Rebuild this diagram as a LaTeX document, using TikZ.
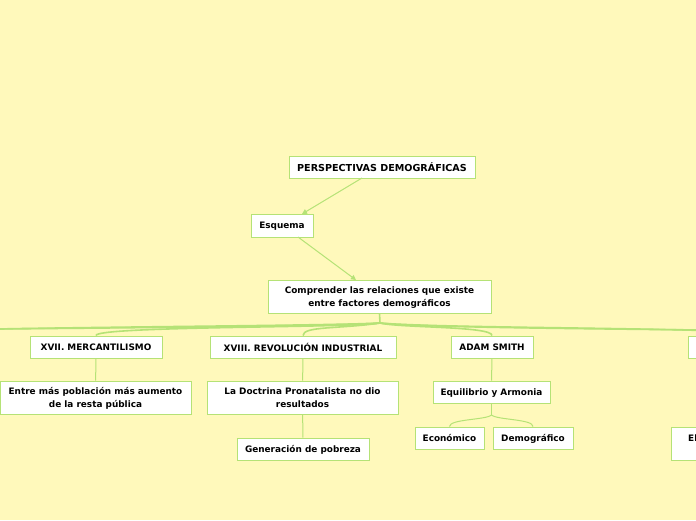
\documentclass[tikz,border=0pt]{standalone}
\usepackage{fontspec}
\setmainfont{DejaVu Sans}
\usetikzlibrary{arrows.meta}
\definecolor{bgyellow}{RGB}{255,249,187}
\definecolor{mapgreen}{RGB}{181,226,118}
\tikzset{
  topic/.style={draw=mapgreen, fill=white, line width=1pt, align=center, inner sep=0pt,
    text depth=0pt, font=\bfseries\fontsize{8.9}{12.5}\selectfont},
  link/.style={draw=mapgreen, line width=1pt},
  branch/.style={draw=mapgreen, line width=1.6pt},
  arrow/.style={link, -{Triangle[width=5pt,length=5pt]}}
}

\begin{document}
\begin{tikzpicture}[x=1pt,y=1pt,yscale=-1]
\clip (0,0) rectangle (696,520);
\fill[bgyellow] (0,0) rectangle (696,520);

% upper part
\node[topic, font=\bfseries\fontsize{9.6}{12}\selectfont, minimum width=186, minimum height=22] (title) at (382,167) {PERSPECTIVAS DEMOGRÁFICAS};
\node[topic, minimum width=62, minimum height=23] (esquema) at (282,225.5) {Esquema};
\node[topic, minimum width=223, minimum height=33] (core) at (379.5,296.5) {Comprender las relaciones que existe\\entre factores demográficos};

\draw[arrow] (362,178) -- (302,214);
\draw[arrow] (298,237) -- (356,280);

% main branches
\node[topic, minimum width=132, minimum height=22] (merc) at (96,347) {XVII. MERCANTILISMO};
\node[topic, minimum width=186, minimum height=22] (revo) at (303,347) {XVIII. REVOLUCIÓN INDUSTRIAL};
\node[topic, minimum width=82, minimum height=22] (adam) at (492,347) {ADAM SMITH};
\node[topic, minimum width=144, minimum height=22] (next) at (760,347) {};

\coordinate (hub) at (380,323);
\draw[branch] (core.south) -- (hub);
\draw[branch] (hub) .. controls (350,328) and (96,326) .. (merc.north);
\draw[branch] (hub) .. controls (340,329) and (303,326) .. (revo.north);
\draw[branch] (hub) .. controls (400,328) and (492,326) .. (adam.north);
\draw[branch] (hub) .. controls (450,329) and (760,327) .. (next.north);
\draw[branch] (hub) .. controls (300,327) and (-150,327) .. (-150,336);
\draw[branch] (hub) .. controls (300,329) and (-350,329) .. (-350,336);
\draw[branch] (hub) .. controls (450,331) and (950,329) .. (950,336);

% second level
\node[topic, minimum width=191, minimum height=33] (entre) at (95.5,397.5) {Entre más población más aumento\\de la resta pública};
\node[topic, minimum width=191, minimum height=33] (doctrina) at (302.5,397.5) {La Doctrina Pronatalista no dio\\resultados};
\node[topic, minimum width=132, minimum height=22] (pobreza) at (303,449) {Generación de pobreza};
\node[topic, minimum width=117, minimum height=22] (equi) at (491.5,392) {Equilibrio y Armonia};
\node[topic, minimum width=69, minimum height=22] (econ) at (449.5,438) {Económico};
\node[topic, minimum width=80, minimum height=22] (demo) at (533,438) {Demográfico};
\node[topic, minimum width=178, minimum height=33] (el) at (760,443.5) {};
\node[anchor=west, inner sep=0pt, font=\bfseries\fontsize{8.9}{12.5}\selectfont] (eltext) at (688,438) {El};

\draw[link] (merc) -- (entre);
\draw[link] (revo) -- (doctrina);
\draw[link] (doctrina) -- (pobreza);
\draw[link] (adam) -- (equi);
\draw[link] (next) -- (el);

\coordinate (split) at (491.5,415);
\draw[link] (equi.south) -- (split);
\draw[link] (split) .. controls (486,420) and (449.5,419) .. (econ.north);
\draw[link] (split) .. controls (497,420) and (533,419) .. (demo.north);

\end{tikzpicture}
\end{document}
